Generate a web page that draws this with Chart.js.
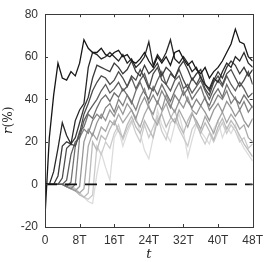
<!DOCTYPE html>
<html>
<head>
<meta charset="utf-8">
<script src="https://cdn.jsdelivr.net/npm/chart.js@4"></script>
<style>
  body { margin: 0; background: #fff; }
  canvas { display: block; }
</style>
</head>
<body>
<canvas id="c" width="269" height="262"></canvas>
<script>
// ================= DATA =================
// time in units of T, one sample per T
const tValues = Array.from({length: 49}, (_, i) => i);

const xTickValues = [0, 8, 16, 24, 32, 40, 48];
const xTickLabels = ["0", "8T", "16T", "24T", "32T", "40T", "48T"];
const yTickValues = [-20, 0, 20, 40, 60, 80];

// r(%) for each run, darkest first
const r1  = [-15,22,42,57,50,49,53,51,57,68,64,62,62,64,61,60,62,63,60,61,58,57,59,62,58,55,60,57,60,56,62,63,59,56,58,54,52,55,50,53,55,58,62,66,73,67,66,60,58];
const r2  = [0,0,6,17,29,23,19,30,35,38,55,62,61,59,60,62,60,58,61,57,59,55,57,60,67,56,61,58,62,68,59,57,60,57,53,55,50,47,45,50,48,53,57,55,60,58,62,57,55];
const r3  = [0,0,0,4,18,20,19,22,29,36,41,50,56,55,54,53,57,55,52,54,58,53,51,56,52,54,57,51,55,53,50,55,58,54,49,52,54,47,44,49,53,50,55,58,56,52,55,51,54];
const r4  = [0,0,0,0,3,17,19,18,24,33,38,44,48,51,50,47,49,53,50,46,51,49,54,50,45,52,55,49,47,52,50,54,49,45,50,47,51,45,42,48,51,47,52,54,50,46,49,53,47];
const r5  = [0,0,0,0,0,2,14,20,22,30,34,37,40,44,47,43,45,48,44,46,50,45,49,52,46,44,49,53,47,44,49,51,45,47,43,46,49,44,40,45,49,46,51,47,44,48,45,41,43];
const r6  = [0,0,0,0,0,-1,1,18,25,27,33,31,36,40,42,39,43,41,45,42,38,44,48,43,40,46,42,47,43,39,44,48,42,45,40,43,46,40,37,42,45,41,47,43,40,38,42,39,36];
const r7  = [0,0,0,0,0,-1,-2,0,22,26,24,30,33,31,36,38,34,40,37,42,39,35,41,45,38,42,38,44,40,36,42,39,44,39,36,40,37,41,35,38,42,40,44,38,41,35,39,34,37];
const r8  = [0,0,0,0,0,-1,-2,-3,-1,20,26,23,29,33,30,35,32,37,33,38,35,31,37,41,36,33,39,35,42,37,34,39,36,41,35,33,37,34,30,35,38,34,39,36,32,35,30,27,31];
const r9  = [0,0,0,0,0,-1,-2,-3,-4,-2,18,24,21,27,25,30,28,33,29,32,35,30,27,33,37,31,28,34,38,32,29,35,31,27,33,30,26,32,28,24,30,34,29,33,30,26,28,22,20];
const r10 = [0,0,0,0,0,0,-1,-3,-5,-6,-4,20,16,23,21,26,30,25,22,28,32,27,24,30,26,22,30,33,27,31,35,28,24,30,34,28,24,29,25,21,27,31,26,30,27,23,19,16,13];
const r11 = [0,0,0,0,0,0,-1,-2,-4,-6,-7,-5,18,14,20,17,24,28,21,26,30,24,20,28,22,27,32,25,21,29,31,26,22,18,26,29,23,19,24,20,25,29,24,28,25,20,22,17,19];
const r12 = [0,0,0,0,0,0,0,-2,-4,-6,-8,-9,5,15,8,2,22,26,18,24,29,32,24,16,12,22,35,28,24,20,28,33,25,13,21,28,25,22,19,26,30,22,27,24,28,21,17,14,11];

const runs = [r1, r2, r3, r4, r5, r6, r7, r8, r9, r10, r11, r12];
const runColors = ["#161616", "#282828", "#3a3a3a", "#4c4c4c", "#5e5e5e", "#707070",
                   "#838383", "#969696", "#a8a8a8", "#bababa", "#cbcbcb", "#dcdcdc"];

const zeroT = [0, 48];
const zeroR = [0, 0];

// ================= DATASETS =================
const datasets = [];

datasets.push({
    data: zeroT.map((t, i) => ({x: t, y: zeroR[i]})),
    borderColor: "#111",
    borderWidth: 1.8,
    borderDash: [12, 8],
    order: 0
});

runs.forEach((r, k) => {
    datasets.push({
        data: tValues.map((t, i) => ({x: t, y: r[i]})),
        borderColor: runColors[k],
        borderWidth: 1.3,
        order: k + 1
    });
});

// ================= FRAME + LABELS =================
const framePlugin = {
    id: "frame",
    afterDraw(chart) {
        const ctx = chart.ctx;
        const a = chart.chartArea;
        const xs = chart.scales.x;
        const ys = chart.scales.y;
        const tick = 3;

        ctx.save();
        ctx.strokeStyle = "#3a3a3a";
        ctx.lineWidth = 1;
        ctx.strokeRect(Math.round(a.left) + 0.5, Math.round(a.top) + 0.5,
                       Math.round(a.right - a.left), Math.round(a.bottom - a.top));

        ctx.beginPath();
        xTickValues.forEach(v => {
            const px = Math.round(xs.getPixelForValue(v)) + 0.5;
            ctx.moveTo(px, a.bottom); ctx.lineTo(px, a.bottom - tick);
            ctx.moveTo(px, a.top);    ctx.lineTo(px, a.top + tick);
        });
        yTickValues.forEach(v => {
            const py = Math.round(ys.getPixelForValue(v)) + 0.5;
            ctx.moveTo(a.left, py);  ctx.lineTo(a.left + tick, py);
            ctx.moveTo(a.right, py); ctx.lineTo(a.right - tick, py);
        });
        ctx.stroke();

        // x title
        ctx.fillStyle = "#222";
        ctx.textAlign = "center";
        ctx.textBaseline = "middle";
        ctx.font = "italic 13px 'DejaVu Serif'";
        ctx.fillText("t", (a.left + a.right) / 2, 255);

        // y title: italic r, upright (%)
        ctx.translate(9, (a.top + a.bottom) / 2);
        ctx.rotate(-Math.PI / 2);
        const fItal = "italic 13px 'DejaVu Serif'";
        const fUp = "12px 'DejaVu Serif'";
        ctx.font = fItal;
        const w1 = ctx.measureText("r").width;
        ctx.font = fUp;
        const w2 = ctx.measureText("(%)").width;
        const x0 = -(w1 + w2) / 2;
        ctx.textAlign = "left";
        ctx.font = fItal;
        ctx.fillText("r", x0, 0);
        ctx.font = fUp;
        ctx.fillText("(%)", x0 + w1 + 0.5, 0);
        ctx.restore();
    }
};

// ================= CHART =================
new Chart(document.getElementById("c"), {
    type: "line",
    data: { datasets: datasets },
    options: {
        responsive: false,
        animation: false,
        layout: { padding: { top: 5, right: 12, left: 0, bottom: 0 } },
        elements: {
            point: { radius: 0 },
            line: { tension: 0 }
        },
        plugins: {
            legend: { display: false },
            tooltip: { enabled: false }
        },
        scales: {
            x: {
                type: "linear",
                min: 0,
                max: 48,
                afterBuildTicks(scale) {
                    scale.ticks = xTickValues.map(v => ({value: v}));
                },
                afterFit(scale) { scale.height = 35; },
                grid: { display: false, drawTicks: false },
                border: { display: false },
                ticks: {
                    padding: 6,
                    color: "#333",
                    font: { family: "'Liberation Sans', Arial", size: 12 },
                    maxRotation: 0,
                    callback: (v) => xTickLabels[xTickValues.indexOf(v)]
                }
            },
            y: {
                min: -20,
                max: 80,
                afterBuildTicks(scale) {
                    scale.ticks = yTickValues.map(v => ({value: v}));
                },
                afterFit(scale) { scale.width = 45; },
                grid: { display: false, drawTicks: false },
                border: { display: false },
                ticks: {
                    padding: 7,
                    color: "#333",
                    font: { family: "'Liberation Sans', Arial", size: 12 }
                }
            }
        }
    },
    plugins: [framePlugin]
});
</script>
</body>
</html>
